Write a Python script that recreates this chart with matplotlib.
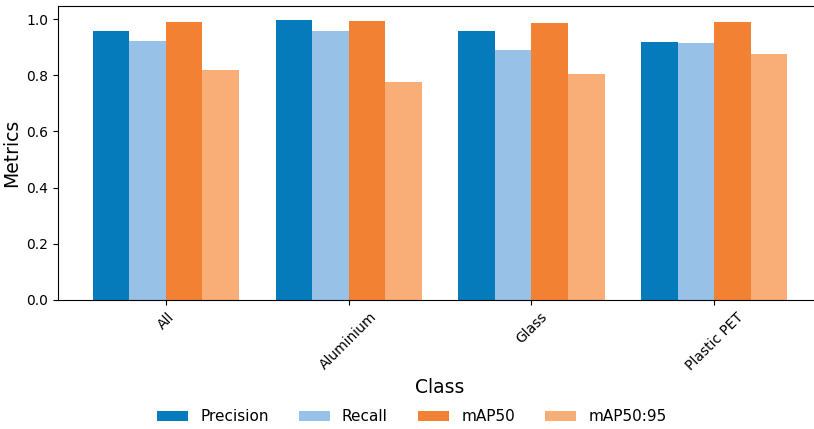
import numpy as np
from matplotlib import pyplot as plt

classes = ['All', 'Aluminium', 'Glass', 'Plastic PET']
metric_names = ['Precision', 'Recall', 'mAP50', 'mAP50:95']
precision = [0.957, 0.997, 0.957, 0.918]
recall = [0.921, 0.957, 0.889, 0.914]
map50 = [0.989, 0.993, 0.986, 0.989]
map50_95 = [0.818, 0.775, 0.804, 0.875]
colors = ['#067BBB', '#97C1E6', '#F28134', '#F9AE78']

fig = plt.figure(figsize=(8.14, 4.29), dpi=100)
ax = fig.add_axes([0.0713, 0.3007, 0.9386, 0.6853])

x = np.arange(len(classes))
width = 0.2
series = [precision, recall, map50, map50_95]
for i, (vals, name) in enumerate(zip(series, metric_names)):
    ax.bar(x + (i - 1.5) * width, vals, width, label=name, color=colors[i])

ax.set_xticks(x)
ax.set_xticklabels(classes, rotation=45)
ax.set_xlabel('Class', fontsize=13.5)
ax.set_ylabel('Metrics', fontsize=13.5)
ax.tick_params(labelsize=10)
# right edge of the axes falls outside the picture, as in the reference
ax.spines['right'].set_visible(False)

handles, labels = ax.get_legend_handles_labels()
fig.legend(handles, labels, loc='center', bbox_to_anchor=(0.506, 0.028),
           ncol=4, frameon=False, fontsize=11)

plt.savefig('out.png', dpi=100)
